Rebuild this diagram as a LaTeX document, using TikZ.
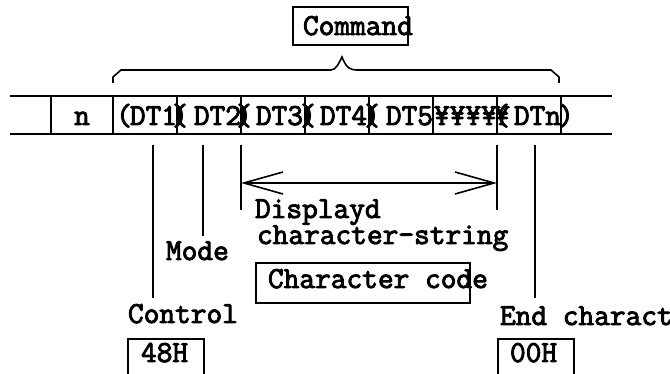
\documentclass[tikz,border=0pt]{standalone}
\usepackage{fontspec}
\newfontfamily\diagfont{Latin Modern Mono}[FakeBold=3]
\usetikzlibrary{arrows.meta}
\begin{document}
\begin{tikzpicture}[x=1pt,y=-1pt,line width=2pt,
  lbl/.style={font=\diagfont\fontsize{30.5}{30.5}\selectfont, inner sep=0pt, anchor=base west},
  lblc/.style={lbl, anchor=base},
  lble/.style={lbl, anchor=base east},
  box/.style={draw, line width=2pt, inner sep=0pt, anchor=north west},
  bar/.style={line width=2pt},
  barb/.style={{Straight Barb[length=39pt,width=22pt]}-{Straight Barb[length=39pt,width=22pt]}, line width=1.6pt}]
\useasboundingbox (0,0) rectangle (670,374);
\clip (0,0) rectangle (670,374);
% Command
\node[box, minimum width=115pt, minimum height=38pt] (cmdbox) at (292,6) {};
\node[lbl] (cmd) at (302,35) {Command};
% brace
\draw[line width=1.6pt] (113,83) -- (113,77) -- (121,70) -- (331,70)
  .. controls (336,70) and (339,63) .. (342,57)
  .. controls (344,62) and (346,66) .. (349,68)
  .. controls (351,69.5) and (354,70) .. (357,70) -- (551,70) -- (559,77) -- (559,83);
% row
\coordinate (rowTL) at (10,96);
\coordinate (rowTR) at (612,96);
\coordinate (rowBL) at (10,134);
\coordinate (rowBR) at (612,134);
\draw[bar] (rowTL) -- (rowTR);
\draw[bar] (rowBL) -- (rowBR);
\foreach \x in {51,113,177,241,305,369,433,497,561}
  \draw[bar] (\x,96) -- (\x,134);
% row texts
\node[lblc] (n) at (82,125) {n};
\node[lblc] (op1) at (124,125) {(};
\node[lble] (dt1) at (178,125) {DT1};
\node[lblc] (p12) at (180,125) {\rlap{)}(};
\node[lble] (dt2) at (242,125) {DT2};
\node[lblc] (p23) at (244,125) {\rlap{)}(};
\node[lble] (dt3) at (304,125) {DT3};
\node[lblc] (p34) at (308,125) {\rlap{)}(};
\node[lble] (dt4) at (368,125) {DT4};
\node[lblc] (p45) at (372,125) {\rlap{)}(};
\node[lble] (dt5) at (434,125) {DT5};
\node[lbl] (yen) at (433,125) {¥¥¥¥};
\node[lblc] (yp) at (502,125) {\rlap{¥}(};
\node[lble] (dtn) at (562,125) {DTn};
\node[lblc] (cl) at (566,125) {)};
% vertical leaders
\coordinate (l1a) at (153,145); \coordinate (l1b) at (153,298);
\coordinate (l2a) at (203,145); \coordinate (l2b) at (203,236);
\coordinate (l3a) at (241,145); \coordinate (l3b) at (241,210);
\coordinate (l4a) at (497,145); \coordinate (l4b) at (497,210);
\coordinate (l5a) at (535,145); \coordinate (l5b) at (535,298);
\draw[bar] (l1a) -- (l1b);
\draw[bar] (l2a) -- (l2b);
\draw[bar] (l3a) -- (l3b);
\draw[bar] (l4a) -- (l4b);
\draw[bar] (l5a) -- (l5b);
% arrow
\coordinate (arL) at (241,183);
\coordinate (arR) at (497,183);
\draw[barb] (arL) -- (arR);
% labels
\node[lbl] (disp1) at (254,218) {Displayd};
\node[lbl] (disp2) at (256,244) {character-string};
\node[lbl] (mode) at (165,260) {Mode};
\node[box, minimum width=214pt, minimum height=40pt] (ccbox) at (255,262) {};
\node[lbl] (cc) at (267,288) {Character code};
\node[lbl] (ctrl) at (127,323) {Control};
\node[box, minimum width=76pt, minimum height=50pt] (b48) at (127,338) {};
\node[lbl] (t48) at (140,362) {48H};
\node[lbl] (endc) at (499,325) {End character};
\node[box, minimum width=76pt, minimum height=50pt] (b00) at (497,338) {};
\node[lbl] (t00) at (509,362) {00H};
\end{tikzpicture}
\end{document}
